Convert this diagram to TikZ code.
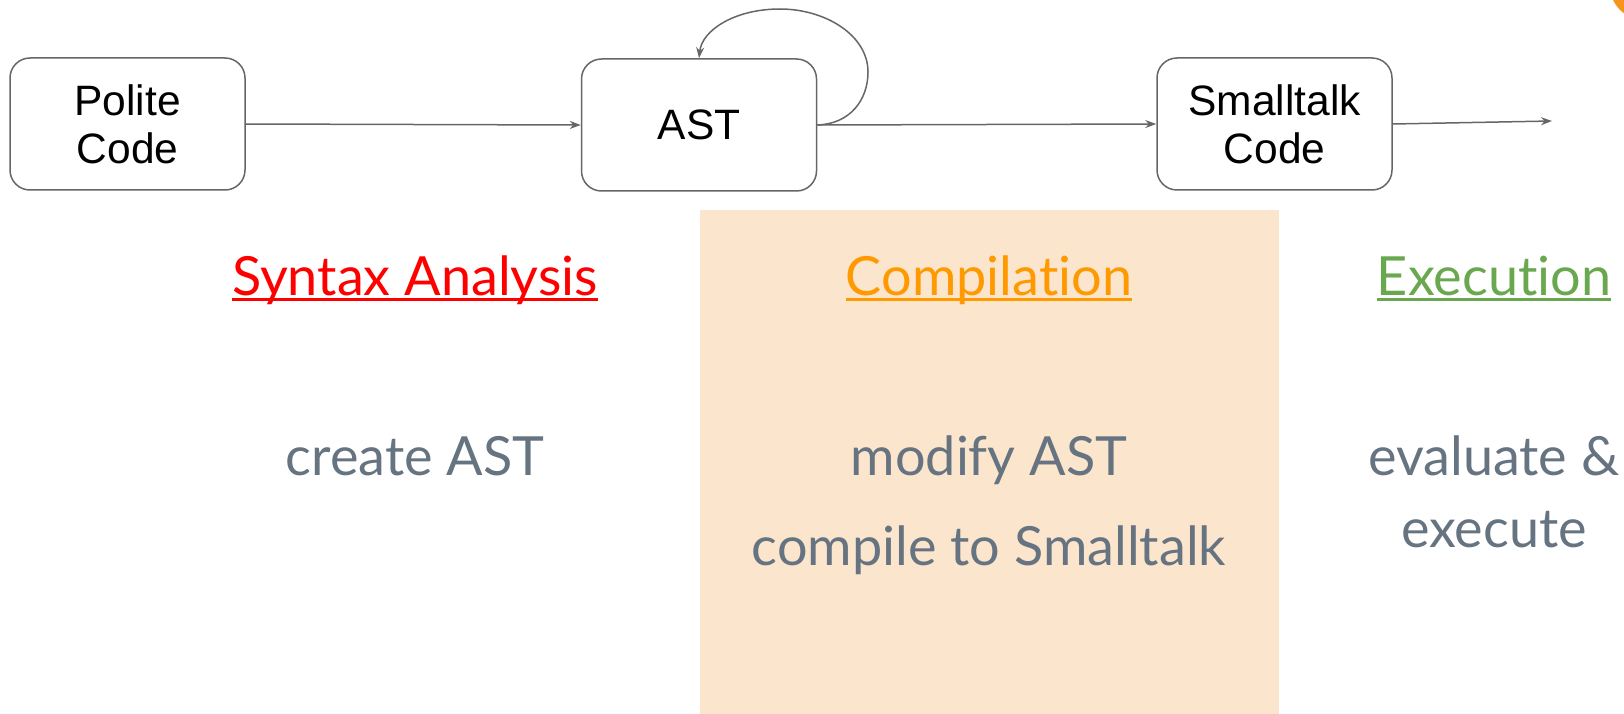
\documentclass[tikz,border=0pt]{standalone}
\usepackage{fontspec}
\setmainfont[Ligatures={NoCommon}]{Lato}
\newfontfamily\boxfont{Liberation Sans}
\usetikzlibrary{arrows.meta}
\definecolor{linegray}{HTML}{666666}
\definecolor{peach}{HTML}{FCE5CD}
\definecolor{synred}{HTML}{FF0000}
\definecolor{comporange}{HTML}{FF9900}
\definecolor{exgreen}{HTML}{6AA84F}
\definecolor{bodygray}{RGB}{102,115,128}
\definecolor{dotorange}{HTML}{F7941D}
\tikzset{
  x=1pt, y=-1pt,
  codebox/.style={draw=linegray, line width=1.5pt, rounded corners=20pt, minimum width=235pt, minimum height=132pt, align=center, inner sep=0pt, font=\boxfont\fontsize{42.5}{48}\selectfont},
  flow/.style={draw=linegray, line width=1.5pt, -{Stealth[length=11pt,width=8pt]}},
  phase/.style={anchor=base, inner sep=0pt, font=\fontsize{54}{64}\selectfont},
  body/.style={anchor=base, inner sep=0pt, text=bodygray, font=\fontsize{54}{64}\selectfont},
  uline/.style={line width=3pt},
}
\begin{document}
\begin{tikzpicture}
\useasboundingbox (0,0) rectangle (1624,714);
\begin{scope}
\clip (0,0) rectangle (1624,714);
\fill[dotorange] (1645,-15) circle (35.3);
\fill[peach] (700,210) rectangle (1279,714);
\end{scope}
\node[codebox] (polite) at (127.5,124) {Polite\\Code};
\node[codebox] (ast) at (699,125) {AST};
\node[codebox] (small) at (1274.5,124) {Smalltalk\\Code};
\coordinate (out) at (1552,121);
\draw[flow] (polite.east) -- (ast.west);
\draw[flow] (ast.east) -- (small.west);
\draw[flow] (small.east) -- (out);
\draw[flow] (ast.east) .. controls (850,124) and (868,100) .. (868,72)
  .. controls (868,35) and (825,9) .. (780,9)
  .. controls (735,9) and (702,30) .. (ast.north);
\node[phase, text=synred] (syn) at (415,295) {Syntax Analysis};
\node[phase, text=comporange] (comp) at (989,295) {Compilation};
\node[phase, text=exgreen] (exe) at (1494,295) {Execution};
\draw[synred, uline] ([yshift=-4.5pt]syn.base west) -- ([yshift=-4.5pt]syn.base east);
\draw[comporange, uline] ([yshift=-4.5pt]comp.base west) -- ([yshift=-4.5pt]comp.base east);
\draw[exgreen, uline] ([yshift=-4.5pt]exe.base west) -- ([yshift=-4.5pt]exe.base east);
\node[body] (create) at (415,475) {create AST};
\node[body] (modify) at (989,475) {modify AST};
\node[body] (compile) at (989,565) {compile to Smalltalk};
\node[body] (evaluate) at (1494,475) {evaluate \&};
\node[body] (execute) at (1494,547) {execute};
\end{tikzpicture}
\end{document}
